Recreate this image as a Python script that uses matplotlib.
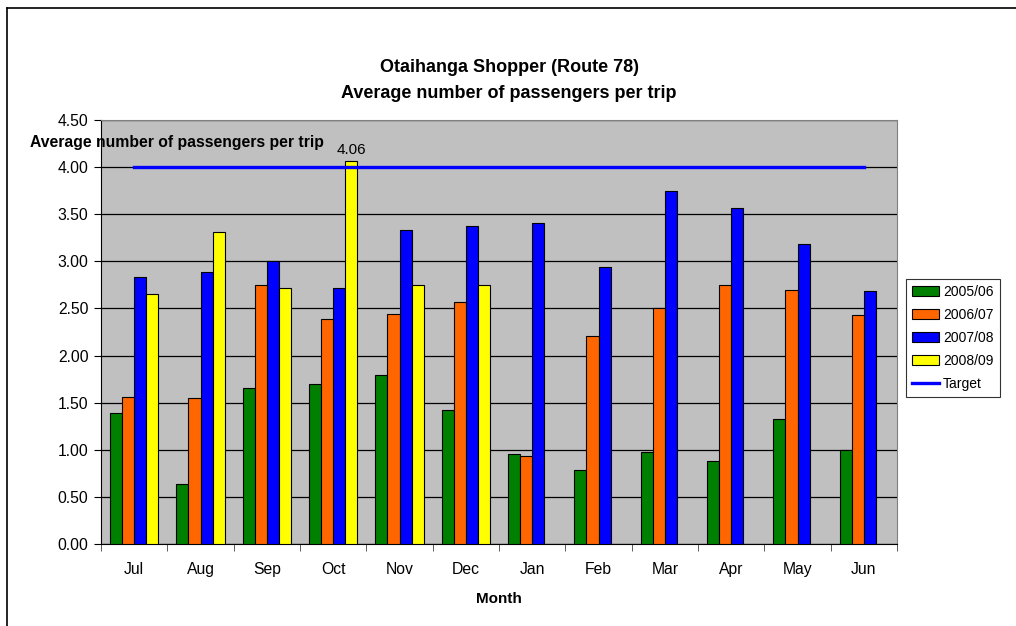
import numpy as np
import matplotlib.pyplot as plt
from matplotlib.lines import Line2D

plt.rcParams['font.family'] = ['Liberation Sans', 'DejaVu Sans']

months = ["Jul", "Aug", "Sep", "Oct", "Nov", "Dec", "Jan", "Feb", "Mar", "Apr", "May", "Jun"]
y2005 = [1.39, 0.64, 1.66, 1.70, 1.79, 1.42, 0.95, 0.79, 0.98, 0.88, 1.33, 1.00]
y2006 = [1.56, 1.55, 2.75, 2.39, 2.44, 2.57, 0.93, 2.21, 2.50, 2.75, 2.70, 2.43]
y2007 = [2.83, 2.89, 3.00, 2.72, 3.33, 3.37, 3.41, 2.94, 3.75, 3.57, 3.18, 2.69]
y2008 = [2.65, 3.31, 2.72, 4.06, 2.75, 2.75, np.nan, np.nan, np.nan, np.nan, np.nan, np.nan]
target = [4.0] * 12

series = [("2005/06", y2005, "#008000"),
          ("2006/07", y2006, "#FF6600"),
          ("2007/08", y2007, "#0000FF"),
          ("2008/09", y2008, "#FFFF00")]

fig = plt.figure(figsize=(10.16, 6.26), dpi=100)
ax = fig.add_axes([101 / 1016, 82 / 626, 796 / 1016, 424 / 626])
ax.set_facecolor("#C0C0C0")

x = np.arange(len(months))
w = 0.181
handles = []
for i, (name, vals, col) in enumerate(series):
    b = ax.bar(x + (i - 1.5) * w, vals, w, color=col, edgecolor="black",
               linewidth=0.8, label=name, zorder=3)
    handles.append(b)

line, = ax.plot(x, target, color="#0000FF", lw=2.4, zorder=4, label="Target")
handles.append(line)

ax.annotate("4.06", (3 + 1.5 * w, y2008[3]), xytext=(0, 3), textcoords="offset points",
            ha="center", va="bottom", fontsize=11, zorder=5)

ax.set_xlim(-0.5, 11.5)
ax.set_ylim(0, 4.5)
yt = np.arange(0, 4.51, 0.5)
ax.set_yticks(yt)
ax.set_yticklabels([f"{v:.2f}" for v in yt], fontsize=11.3)
ax.set_xticks(x)
ax.set_xticklabels(months, fontsize=11.3)
ax.set_xticks(np.arange(-0.5, 12, 1), minor=True)
ax.tick_params(axis="x", which="major", length=0, pad=13)
ax.tick_params(axis="x", which="minor", length=5, color="#404040")
ax.tick_params(axis="y", length=5, direction="out", pad=4)
ax.grid(axis="y", color="black", lw=0.9, zorder=1)
ax.set_axisbelow(True)
for s in ["top", "right"]:
    ax.spines[s].set_color("#808080")
ax.spines["left"].set_color("black")
ax.spines["bottom"].set_color("black")

ax.set_xlabel("Month", fontsize=11, fontweight="bold", labelpad=11)

fig.text(509 / 1016, 1 - 68 / 626, "Otaihanga Shopper (Route 78)", ha="center", va="center",
         fontsize=13, fontweight="bold")
fig.text(509 / 1016, 1 - 94 / 626, "Average number of passengers per trip", ha="center", va="center",
         fontsize=13, fontweight="bold")
fig.text(30 / 1016, 1 - 143 / 626, "Average number of passengers per trip", ha="left", va="center",
         fontsize=11.3, fontweight="bold", zorder=10)

leg = fig.legend(handles=handles, loc="center left", bbox_to_anchor=(906 / 1016, 1 - 338 / 626),
                 fontsize=10, frameon=True, fancybox=False, edgecolor="black",
                 handlelength=1.9, handleheight=0.75, borderpad=0.45, labelspacing=0.65,
                 handletextpad=0.3, borderaxespad=0)
leg.get_frame().set_linewidth(0.8)

fig.add_artist(Line2D([7 / 1016, 7 / 1016], [0, 1 - 8 / 626], color="black", lw=1.2))
fig.add_artist(Line2D([7 / 1016, 1], [1 - 8 / 626, 1 - 8 / 626], color="black", lw=1.2))

fig.savefig("out.png", dpi=100)
